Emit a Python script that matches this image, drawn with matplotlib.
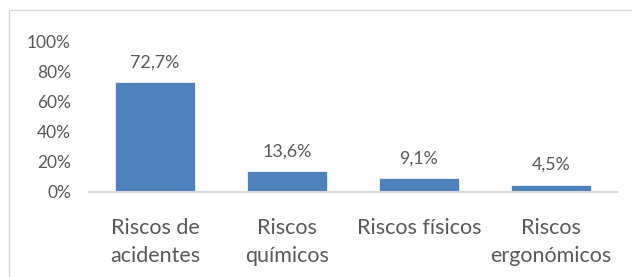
import matplotlib.pyplot as plt
from matplotlib.patches import Rectangle

# data
categories = ['Riscos de\nacidentes', 'Riscos\nquímicos', 'Riscos físicos', 'Riscos\nergonómicos']
values = [72.7, 13.6, 9.1, 4.5]
labels = ['72,7%', '13,6%', '9,1%', '4,5%']
yticks = [0, 20, 40, 60, 80, 100]
ytick_labels = ['0%', '20%', '40%', '60%', '80%', '100%']

plt.rcParams['font.family'] = ['Lato', 'DejaVu Sans']
grey = '#595959'

fig = plt.figure(figsize=(6.32, 2.77), dpi=100)
# outer chart border
fig.patches.append(Rectangle((9/632, -0.05), 1.1, 1 - 10/277 + 0.05, transform=fig.transFigure,
                             fill=False, edgecolor='#D9D9D9', linewidth=1))
ax = fig.add_axes([89/632, 85/277, 528/632, 151/277])

x = range(len(categories))
ax.bar(x, values, width=0.6, color='#4F81BD', edgecolor='white', linewidth=0.5)
for i, v in enumerate(values):
    ax.text(i, v + 8, labels[i], ha='center', va='bottom', fontsize=12.8, color=grey)

ax.set_xlim(-0.5, 3.5)
ax.set_ylim(0, 100)
ax.set_yticks(yticks)
ax.set_yticklabels(ytick_labels, fontsize=12.5, color=grey)
ax.set_xticks(list(x))
ax.set_xticklabels(categories, fontsize=15.5, color=grey, linespacing=1.45)
ax.tick_params(axis='y', length=0, pad=13)
ax.tick_params(axis='x', length=0, pad=19)
for s in ['top', 'right', 'left']:
    ax.spines[s].set_visible(False)
ax.spines['bottom'].set_color('#D9D9D9')
ax.spines['bottom'].set_linewidth(1.5)

fig.savefig('out.png', dpi=100)
